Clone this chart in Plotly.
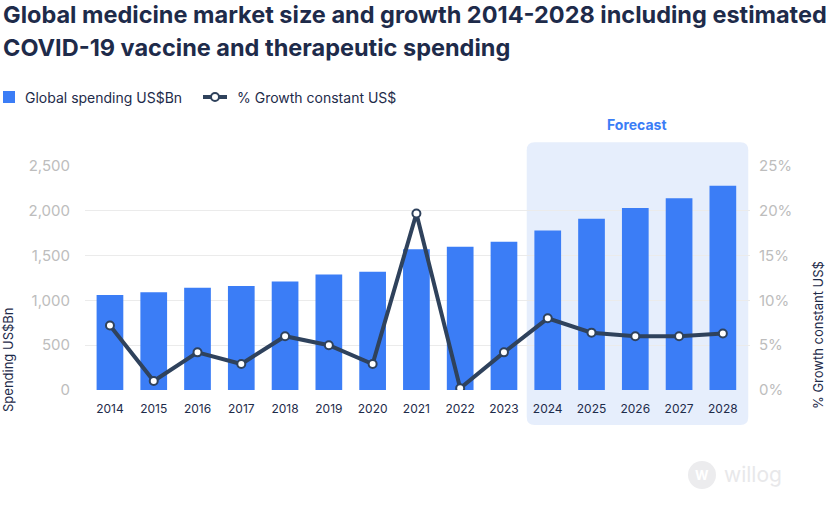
import plotly.graph_objects as go

years = [2014, 2015, 2016, 2017, 2018, 2019, 2020, 2021, 2022, 2023, 2024, 2025, 2026, 2027, 2028]
spending = [1060, 1090, 1140, 1160, 1210, 1290, 1320, 1570, 1600, 1655, 1780, 1910, 2030, 2140, 2280]
growth = [7.2, 1.0, 4.2, 2.9, 6.0, 5.0, 2.9, 19.7, 0.2, 4.2, 8.0, 6.4, 6.0, 6.0, 6.3]
forecast_start = 2024
forecast_end = 2028
title_lines = ["Global medicine market size and growth 2014-2028 including estimated",
               "COVID-19 vaccine and therapeutic spending"]
bar_name = "Global spending US$Bn"
line_name = "% Growth constant US$"

W, H = 828, 522
L, R, T, B = 85, 78, 166, 132
PW, PH = W - L - R, H - T - B

BLUE = "#3B7DF6"
NAVY = "#1E2B4A"
LINE = "#2F425C"
GRAY = "#BDBDBD"
FONT = "Inter"


def px(xp):
    return (xp - L) / PW


def py(yp):
    return (H - B - yp) / PH


fig = go.Figure()
fig.add_trace(go.Bar(
    x=years, y=spending, name=bar_name,
    marker=dict(color=BLUE, line=dict(width=0)), width=0.61, yaxis="y",
))
fig.add_trace(go.Scatter(
    x=years, y=growth, name=line_name, yaxis="y2",
    mode="lines+markers",
    line=dict(color=LINE, width=4),
    marker=dict(color="white", size=8, line=dict(color=LINE, width=2)),
))

# forecast panel (rounded rect)
x0 = forecast_start - 0.48
x1 = forecast_end + 0.58
y0, y1 = py(425), py(142.3)
rx, ry = 0.18, 8 / PH
path = (f"M {x0+rx},{y0} L {x1-rx},{y0} Q {x1},{y0} {x1},{y0+ry} "
        f"L {x1},{y1-ry} Q {x1},{y1} {x1-rx},{y1} L {x0+rx},{y1} "
        f"Q {x0},{y1} {x0},{y1-ry} L {x0},{y0+ry} Q {x0},{y0} {x0+rx},{y0} Z")
fig.add_shape(type="path", path=path, xref="x", yref="paper",
              fillcolor="#E6EEFC", line=dict(width=0), layer="below")

fig.add_annotation(x=(x0 + x1) / 2, y=py(124.5), xref="x", yref="paper",
                   xanchor="center", yanchor="middle",
                   text="<b>Forecast</b>", showarrow=False,
                   font=dict(family=FONT, size=14, color=BLUE))

# axis titles
fig.add_annotation(x=px(8), y=py(360), xref="paper", yref="paper",
                   xanchor="center", yanchor="middle",
                   text="Spending US$Bn", textangle=-90, showarrow=False,
                   font=dict(family=FONT, size=13, color=NAVY))
fig.add_annotation(x=px(818), y=py(335), xref="paper", yref="paper",
                   xanchor="center", yanchor="middle",
                   text=line_name, textangle=-90, showarrow=False,
                   font=dict(family=FONT, size=13, color=NAVY))

# title
for txt, yc in zip(title_lines, [14, 47]):
    fig.add_annotation(x=px(1), y=py(yc), xref="paper", yref="paper",
                       xanchor="left", yanchor="middle",
                       text=f"<b>{txt}</b>", showarrow=False,
                       font=dict(family=FONT, size=23.5, color=NAVY))

# legend (drawn)
fig.add_shape(type="rect", xref="paper", yref="paper",
              x0=px(3), x1=px(15), y0=py(103), y1=py(91),
              fillcolor=BLUE, line=dict(width=0))
fig.add_annotation(x=px(23), y=py(97), xref="paper", yref="paper",
                   xanchor="left", yanchor="middle", text=bar_name, showarrow=False,
                   font=dict(family=FONT, size=14, color=NAVY))
fig.add_shape(type="line", xref="paper", yref="paper",
              x0=px(203), x1=px(227), y0=py(97), y1=py(97),
              line=dict(color=LINE, width=4))
fig.add_shape(type="circle", xref="paper", yref="paper",
              x0=px(211), x1=px(219), y0=py(101), y1=py(93),
              fillcolor="white", line=dict(color=LINE, width=2))
fig.add_annotation(x=px(235), y=py(97), xref="paper", yref="paper",
                   xanchor="left", yanchor="middle", text=line_name, showarrow=False,
                   font=dict(family=FONT, size=14, color=NAVY))

# watermark
fig.add_shape(type="circle", xref="paper", yref="paper",
              x0=px(688), x1=px(716), y0=py(489), y1=py(461),
              fillcolor="#ECECEE", line=dict(width=0))
fig.add_annotation(x=px(702), y=py(475), xref="paper", yref="paper",
                   xanchor="center", yanchor="middle",
                   text="<b>W</b>", showarrow=False,
                   font=dict(family=FONT, size=13, color="white"))
fig.add_annotation(x=px(722), y=py(474), xref="paper", yref="paper",
                   xanchor="left", yanchor="middle",
                   text="willog", showarrow=False,
                   font=dict(family=FONT, size=21, color="#E8E8EA"))

fig.update_layout(
    width=W, height=H,
    margin=dict(l=L, r=R, t=T, b=B),
    paper_bgcolor="white", plot_bgcolor="rgba(0,0,0,0)",
    font=dict(family=FONT, color=NAVY),
    showlegend=False,
    bargap=0.39,
    xaxis=dict(
        range=[2013.43, 2028.62], tickvals=years, ticktext=[str(y) for y in years],
        showgrid=False, zeroline=False, showline=False,
        ticks="outside", ticklen=8, tickcolor="rgba(0,0,0,0)",
        tickfont=dict(family=FONT, size=12, color=NAVY),
    ),
    yaxis=dict(
        range=[0, 2500], dtick=500, tickformat=",",
        showgrid=True, gridcolor="#EBEBEB", gridwidth=1,
        zeroline=False, showline=False,
        ticks="outside", ticklen=11, tickcolor="rgba(0,0,0,0)",
        tickfont=dict(family=FONT, size=15, color=GRAY),
    ),
    yaxis2=dict(
        range=[0, 25], dtick=5, ticksuffix="%", overlaying="y", side="right",
        showgrid=False, zeroline=False, showline=False,
        ticks="outside", ticklen=5, tickcolor="rgba(0,0,0,0)",
        tickfont=dict(family=FONT, size=15, color=GRAY),
    ),
)

fig.write_html("out.html", config={"displayModeBar": False},
               post_script="document.body.style.margin='0';")
